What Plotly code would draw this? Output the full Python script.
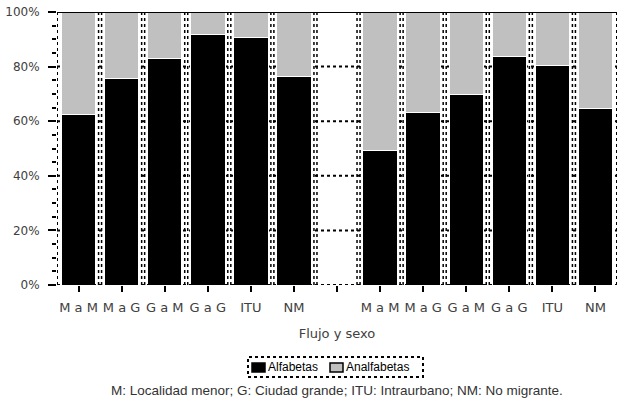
import plotly.graph_objects as go

# Flow categories (two groups of six, separated by an empty slot)
categories = ["M a M", "M a G", "G a M", "G a G", "ITU", "NM", "",
              "M a M", "M a G", "G a M", "G a G", "ITU", "NM"]
alfabetas = [62.6, 75.8, 83.1, 91.9, 90.5, 76.5, None,
             49.1, 63.3, 69.9, 83.7, 80.3, 64.8]
analfabetas = [37.4, 24.2, 16.9, 8.1, 9.5, 23.5, None,
               50.9, 36.7, 30.1, 16.3, 19.7, 35.2]
y_ticks = [0, 20, 40, 60, 80, 100]
y_labels = ["0%", "20%", "40%", "60%", "80%", "100%"]

series_colors = {"Alfabetas": "#000000", "Analfabetas": "#c0c0c0"}

x_pos = list(range(len(categories)))

fig = go.Figure()
fig.add_trace(go.Bar(
    x=x_pos, y=alfabetas, name="Alfabetas", width=0.8,
    marker=dict(color=series_colors["Alfabetas"], line=dict(color="#ffffff", width=1)),
))
fig.add_trace(go.Bar(
    x=x_pos, y=analfabetas, name="Analfabetas", width=0.8,
    marker=dict(color=series_colors["Analfabetas"], line=dict(color="#ffffff", width=1)),
))

# plot area in pixels
L, R, T, B = 57, 617, 12, 285
PW, PH = R - L, B - T


def px_x(p):
    return (p - L) / PW


def px_y(p):
    return (B - p) / PH


shapes = []
dot = dict(color="#000000", width=2, dash="dot")
# horizontal dotted gridlines
for v in y_ticks[1:-1]:
    shapes.append(dict(type="line", xref="x", yref="y", x0=-0.5, x1=12.5,
                       y0=v, y1=v, line=dot, layer="below"))
# vertical double dotted lines at category boundaries
off = 0.035
for b in range(len(categories) - 1):
    xb = b + 0.5
    for d in (-off, off):
        shapes.append(dict(type="line", xref="x", yref="y", x0=xb + d, x1=xb + d,
                           y0=0, y1=100, line=dict(color="#000000", width=1.5, dash="dot"),
                           layer="below"))
# left and right borders, dotted
for xb in (-0.5, 12.5):
    shapes.append(dict(type="line", xref="x", yref="y", x0=xb, x1=xb,
                       y0=0, y1=100, line=dot, layer="above"))
# bottom axis dotted, top border solid
shapes.append(dict(type="line", xref="x", yref="y", x0=-0.5, x1=12.5, y0=0, y1=0,
                   line=dot, layer="above"))
shapes.append(dict(type="line", xref="x", yref="y", x0=-0.5, x1=12.5, y0=100, y1=100,
                   line=dict(color="#000000", width=2), layer="above"))

# legend: dotted frame, swatches and labels
shapes.append(dict(type="rect", xref="paper", yref="paper",
                   x0=px_x(248), x1=px_x(423), y0=px_y(377), y1=px_y(357),
                   line=dict(color="#000000", width=2, dash="dot")))
legend_items = [("Alfabetas", 252), ("Analfabetas", 330)]
for name, sx in legend_items:
    shapes.append(dict(type="rect", xref="paper", yref="paper",
                       x0=px_x(sx), x1=px_x(sx + 13), y0=px_y(372), y1=px_y(363),
                       fillcolor=series_colors[name],
                       line=dict(color="#000000", width=1.5)))
    fig.add_annotation(text=name, xref="paper", yref="paper",
                       x=px_x(sx + 14), y=px_y(367), xanchor="left", yanchor="middle",
                       showarrow=False,
                       font=dict(family="Liberation Sans", size=12, color="#000000"))

fig.update_layout(
    width=618, height=402,
    margin=dict(l=L, r=618 - R, t=T, b=402 - B),
    paper_bgcolor="#ffffff", plot_bgcolor="#ffffff",
    barmode="stack", bargap=0.2,
    font=dict(family="DejaVu Sans", size=12, color="#404040"),
    showlegend=False,
    shapes=shapes,
    xaxis=dict(
        range=[-0.5, 12.5], tickmode="array", tickvals=x_pos, ticktext=categories,
        showgrid=False, zeroline=False, showline=False,
        ticks="outside", ticklen=6, tickwidth=2, tickcolor="#000000",
        ticklabelstandoff=4,
        tickfont=dict(size=13, color="#404040"),
        title=dict(text="Flujo y sexo", font=dict(size=13, color="#404040"), standoff=15),
    ),
    yaxis=dict(
        range=[0, 100], tickmode="array", tickvals=y_ticks, ticktext=y_labels,
        showgrid=False, zeroline=False, showline=False,
        ticks="outside", ticklen=8, tickwidth=2, tickcolor="#000000",
        ticklabelstandoff=6,
        tickfont=dict(size=12, color="#404040"),
        minor=dict(dtick=5, ticks="outside", ticklen=4, tickwidth=2, tickcolor="#000000"),
    ),
)

fig.add_annotation(
    text="M: Localidad menor; G: Ciudad grande; ITU: Intraurbano; NM: No migrante.",
    xref="paper", yref="paper", x=px_x(337), y=px_y(390),
    xanchor="center", yanchor="middle", showarrow=False,
    font=dict(family="Liberation Sans", size=13.5, color="#333333"),
)

fig.write_html("out.html")
